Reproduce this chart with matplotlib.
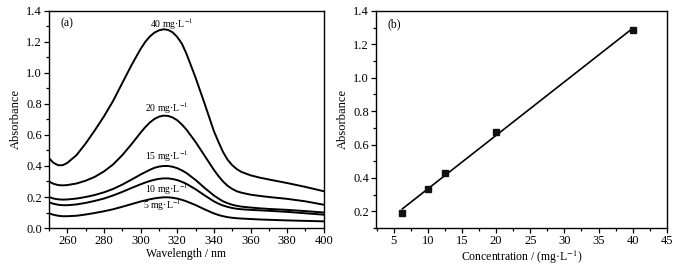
import numpy as np
import matplotlib.pyplot as plt
from matplotlib.ticker import MultipleLocator

plt.rcParams['font.family'] = ['Liberation Serif', 'DejaVu Serif']
plt.rcParams['mathtext.fontset'] = 'stix'

#%% data
wavelength = [250, 252.5, 255, 257.5, 260, 265, 270, 275, 280, 285, 290, 295, 300,
              302.5, 305, 307.5, 310, 312.5, 315, 317.5, 320, 322.5, 325, 330, 335, 340,
              342.5, 345, 347.5, 350, 352.5, 355, 360, 365, 370, 380, 390, 400]
abs_40 = [0.45, 0.42, 0.405, 0.405, 0.42, 0.47, 0.545, 0.63, 0.72, 0.82, 0.935, 1.05, 1.155,
          1.20, 1.235, 1.26, 1.275, 1.282, 1.278, 1.262, 1.232, 1.19, 1.125, 0.97, 0.80, 0.625,
          0.555, 0.49, 0.44, 0.405, 0.38, 0.362, 0.34, 0.325, 0.313, 0.29, 0.265, 0.237]
abs_20 = [0.30, 0.285, 0.277, 0.275, 0.277, 0.287, 0.305, 0.33, 0.365, 0.41, 0.47, 0.54, 0.615,
          0.65, 0.68, 0.703, 0.718, 0.725, 0.723, 0.713, 0.695, 0.668, 0.635, 0.555, 0.465, 0.375,
          0.335, 0.30, 0.272, 0.252, 0.237, 0.228, 0.215, 0.207, 0.20, 0.188, 0.172, 0.15]
abs_15 = [0.20, 0.19, 0.185, 0.183, 0.184, 0.19, 0.20, 0.213, 0.23, 0.252, 0.28, 0.312, 0.345,
          0.36, 0.375, 0.388, 0.396, 0.40, 0.40, 0.395, 0.386, 0.372, 0.355, 0.31, 0.258, 0.21,
          0.19, 0.172, 0.16, 0.15, 0.143, 0.138, 0.132, 0.127, 0.123, 0.117, 0.109, 0.10]
abs_10 = [0.166, 0.156, 0.15, 0.147, 0.147, 0.152, 0.162, 0.175, 0.19, 0.21, 0.233, 0.258, 0.282,
          0.293, 0.303, 0.311, 0.317, 0.32, 0.32, 0.316, 0.309, 0.298, 0.285, 0.25, 0.21, 0.172,
          0.157, 0.145, 0.136, 0.129, 0.124, 0.121, 0.117, 0.114, 0.111, 0.104, 0.095, 0.086]
abs_5 = [0.095, 0.085, 0.079, 0.076, 0.076, 0.079, 0.087, 0.097, 0.108, 0.121, 0.137, 0.154, 0.171,
         0.178, 0.185, 0.191, 0.195, 0.198, 0.198, 0.195, 0.19, 0.182, 0.172, 0.148, 0.12, 0.094,
         0.084, 0.076, 0.07, 0.066, 0.063, 0.061, 0.058, 0.055, 0.053, 0.049, 0.046, 0.043]
curve_labels = ["40 mg·L$^{-1}$", "20 mg·L$^{-1}$", "15 mg·L$^{-1}$", "10 mg·L$^{-1}$", "5 mg·L$^{-1}$"]
label_pos = [(317, 1.315), (314, 0.775), (314, 0.46), (314, 0.25), (312, 0.145)]

conc = [6.25, 10, 12.5, 20, 40]
peak_abs = [0.19, 0.335, 0.43, 0.675, 1.285]

#%% plot
fig = plt.figure(figsize=(6.94, 2.65), dpi=100)
ax1 = fig.add_axes([0.0706, 0.1396, 0.396, 0.819])
ax2 = fig.add_axes([0.5418, 0.1396, 0.419, 0.819])

for y in [abs_40, abs_20, abs_15, abs_10, abs_5]:
    ax1.plot(wavelength, y, color="black", linewidth=1.4, solid_joinstyle="round")
for txt, (x, y) in zip(curve_labels, label_pos):
    ax1.text(x, y, txt, fontsize=7, ha="center", va="center")
ax1.text(260, 1.32, "(a)", fontsize=8.5, ha="center", va="center")
ax1.set_xlim(250, 400)
ax1.set_ylim(0, 1.4)
ax1.xaxis.set_minor_locator(MultipleLocator(10))
ax1.yaxis.set_major_locator(MultipleLocator(0.2))
ax1.yaxis.set_minor_locator(MultipleLocator(0.1))
ax1.set_xticks(range(260, 401, 20))
ax1.set_xlabel("Wavelength / nm", fontsize=8.5, labelpad=1)
ax1.set_ylabel("Absorbance", fontsize=9, labelpad=3)

# linear fit of peak absorbance vs concentration
coeffs = np.polyfit(conc, peak_abs, 1)
fit = np.poly1d(coeffs)
ax2.plot(conc, fit(conc), color="black", linewidth=1.2)
ax2.plot(conc, peak_abs, "s", color="#111111", markersize=5)
ax2.text(5.0, 1.32, "(b)", fontsize=8.5, ha="center", va="center")
ax2.set_xlim(2.4, 45)
ax2.set_ylim(0.1, 1.4)
ax2.xaxis.set_minor_locator(MultipleLocator(2.5))
ax2.yaxis.set_minor_locator(MultipleLocator(0.1))
ax2.set_xticks(range(5, 46, 5))
ax2.set_yticks([0.2, 0.4, 0.6, 0.8, 1.0, 1.2, 1.4])
ax2.set_xlabel("Concentration / (mg·L$^{-1}$)", fontsize=8.5, labelpad=1)
ax2.set_ylabel("Absorbance", fontsize=9, labelpad=3)

for ax in (ax1, ax2):
    ax.tick_params(which="both", direction="out", top=False, right=False, labelsize=9, pad=1.5, width=0.9)
    ax.tick_params(which="major", length=3.5)
    ax.tick_params(which="minor", length=2)
    for s in ax.spines.values():
        s.set_linewidth(1.0)

fig.savefig("out.png", dpi=100)
